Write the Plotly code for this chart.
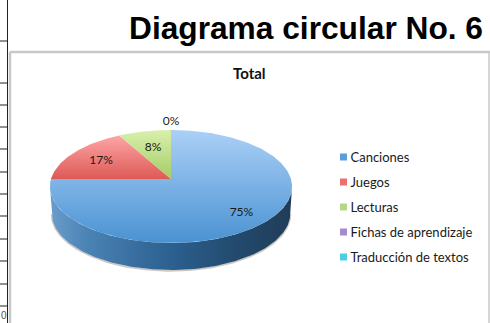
import numpy as np
import plotly.graph_objects as go

categories = ["Canciones", "Juegos", "Lecturas", "Fichas de aprendizaje", "Traducción de textos"]
values = [75, 17, 8, 0, 0]
value_labels = ["75%", "17%", "8%", "0%", None]
label_radius = [0.77, 0.71, 0.65, 1.22, 1.22]
title_text = "Diagrama circular No. 6"
chart_title = "Total"

top_scales = [
    [[0, "#4a92d2"], [1, "#abd0f7"]],
    [[0, "#dd5a56"], [1, "#fda6a6"]],
    [[0, "#a6cc66"], [1, "#d8f0ac"]],
    [[0, "#8a6db0"], [1, "#b9a3d8"]],
    [[0, "#35b5cc"], [1, "#7fdcea"]],
]
legend_colors = ["#5c9ed8", "#ea6f6d", "#b5d886", "#a68cc8", "#4ccde0"]
wall_scale = [[0, "#6a9dca"], [0.16, "#4a82b4"], [0.5, "#2b6090"], [0.78, "#23496c"], [1, "#1f3d58"]]

CX, CY, RX, RY, K = 171, 179, 120, 55.5, 0.1327
DEPTH = 27
FONT = "Lato"
TEXT_DROP = 1.5


def project(theta, r=1.0, scale=1.0, drop=0.0):
    d = 1 + K * np.cos(theta) * r
    return (CX + scale * RX * r * np.sin(theta) / d,
            CY - RY * r * np.cos(theta) / d + drop)


fig = go.Figure()

# side wall of the front part of the disc
edge = np.arccos(-K)
t = np.linspace(edge, 2 * np.pi - edge, 160)
x1, y1 = project(t)
x2, y2 = project(t[::-1], scale=0.985, drop=DEPTH)
fig.add_trace(go.Scatter(
    x=x2, y=y2 + 0.7, mode="lines", line=dict(width=2, color="rgba(110,100,90,0.35)"),
    hoverinfo="skip", showlegend=False))
fig.add_trace(go.Scatter(
    x=np.r_[x1, x2], y=np.r_[y1, y2], mode="lines", line=dict(width=0), fill="toself",
    fillgradient=dict(type="horizontal", colorscale=wall_scale),
    hoverinfo="skip", showlegend=False))

# top face, one slice per value, clockwise from twelve o'clock
total = sum(values)
start = 0.0
label_x, label_y = [], []
for v, scale, rad in zip(values, top_scales, label_radius):
    sweep = 2 * np.pi * v / total
    t = np.linspace(start, start + sweep, max(2, int(v * 4)))
    xs, ys = project(t)
    if v > 0:
        fig.add_trace(go.Scatter(
            x=np.r_[CX, xs, CX], y=np.r_[CY, ys, CY], mode="lines", line=dict(width=0),
            fill="toself", fillgradient=dict(type="vertical", colorscale=scale),
            hoverinfo="skip", showlegend=False))
    lx, ly = project(start + sweep / 2, r=rad)
    label_x.append(float(lx))
    label_y.append(float(ly) + TEXT_DROP)
    start += sweep

fig.add_trace(go.Scatter(
    x=label_x, y=label_y, mode="text", text=value_labels,
    textfont=dict(family=FONT, size=12, color="#1a1a1a"),
    textposition="middle center", hoverinfo="skip", showlegend=False))

# legend
leg_x = [343.5] * len(categories)
leg_y = [157 + 25 * i for i in range(len(categories))]
fig.add_trace(go.Scatter(
    x=leg_x, y=leg_y, mode="markers",
    marker=dict(symbol="square", size=7, color=legend_colors, line=dict(width=0)),
    hoverinfo="skip", showlegend=False))
fig.add_trace(go.Scatter(
    x=[x + 7 for x in leg_x], y=[y + TEXT_DROP for y in leg_y], mode="text", text=categories,
    textposition="middle right",
    textfont=dict(family=FONT, size=13, color="#1a1a1a"),
    hoverinfo="skip", showlegend=False))

shapes = [
    dict(type="line", x0=7.5, x1=7.5, y0=0, y1=323, line=dict(color="#222222", width=1)),
]
for gy in [41, 83, 105, 127, 149, 172, 194, 216, 239, 261, 284, 306]:
    shapes.append(dict(type="line", x0=0, x1=7.5, y0=gy, y1=gy, line=dict(color="#222222", width=1)))
shapes += [
    dict(type="line", x0=10, x1=490, y0=52, y1=52, line=dict(color="#c8c8c8", width=2.5)),
    dict(type="line", x0=10, x1=10, y0=52, y1=323, line=dict(color="#c8c8c8", width=2.5)),
    dict(type="line", x0=489, x1=489, y0=52, y1=323, line=dict(color="#c8c8c8", width=1.5)),
]

annotations = [
    dict(x=485, y=27.5, text=f"<b>{title_text}</b>", xanchor="right", yanchor="middle", showarrow=False,
         font=dict(family="Liberation Sans", size=31.7, color="#000000")),
    dict(x=249, y=73, text=f"<b>{chart_title}</b>", xanchor="center", yanchor="middle", showarrow=False,
         font=dict(family=FONT, size=15, color="#111111")),
    dict(x=0, y=315.5, xshift=-1, text="0", xanchor="left", yanchor="middle", showarrow=False,
         font=dict(family="Liberation Sans", size=10, color="#5a5030")),
]

fig.update_layout(
    width=490, height=323, margin=dict(l=0, r=0, t=0, b=0),
    paper_bgcolor="#ffffff", plot_bgcolor="#ffffff", showlegend=False,
    xaxis=dict(range=[0, 490], visible=False, fixedrange=True),
    yaxis=dict(range=[323, 0], visible=False, fixedrange=True),
    shapes=shapes, annotations=annotations,
)
fig.write_html("out.html", config=dict(displayModeBar=False),
               post_script="document.body.style.margin='0';document.body.style.overflow='hidden';")
